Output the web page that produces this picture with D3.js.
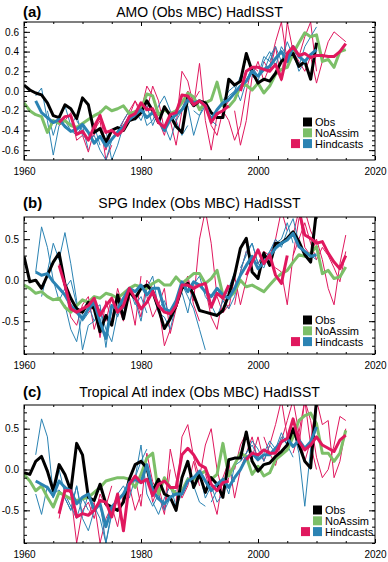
<!DOCTYPE html>
<html><head><meta charset="utf-8">
<script src="https://cdn.jsdelivr.net/npm/d3@7"></script>
<style>body{margin:0;background:#fff}svg{display:block}text{font-family:"Liberation Sans",Arial,Helvetica,sans-serif}</style>
</head><body>
<svg id="chart" width="388" height="562"></svg>
<script>
// ---------- shared ----------
const xDomain = [1960, 2020];
const xTicks = [1960, 1980, 2000, 2020];
const xMinorTicks = [1965, 1970, 1975, 1985, 1990, 1995, 2005, 2010, 2015];
const letters = ["(a)", "(b)", "(c)"];
const titles = ["AMO (Obs MBC) HadISST", "SPG Index (Obs MBC) HadISST", "Tropical Atl index (Obs MBC) HadISST"];
const legendLabels = ["Obs", "NoAssim", "Hindcasts"];

// ---------- panel (a) AMO ----------
const aYDomain = [-0.7, 0.7];
const aYTicks = [-0.6, -0.4, -0.2, 0, 0.2, 0.4, 0.6];
const aObsStart = 1960;
const aObs = [0.06,0.01,-0.02,-0.04,-0.12,-0.25,-0.27,-0.14,-0.18,-0.28,
  -0.07,-0.14,-0.42,-0.38,-0.52,-0.40,-0.37,-0.40,-0.30,-0.28,
  -0.22,-0.10,-0.20,-0.32,-0.16,-0.25,-0.36,-0.42,-0.06,-0.15,
  -0.10,-0.12,-0.22,-0.27,-0.27,0.12,0.06,0.10,0.38,0.20,
  0.08,0.12,0.10,0.18,0.30,0.35,0.38,0.25,0.30,0.12,0.49];
const aNoAssimStart = 1960;
const aNoAssim = [-0.12,-0.20,-0.24,-0.26,-0.42,-0.30,-0.33,-0.30,-0.35,-0.37,
  -0.33,-0.29,-0.25,-0.22,-0.16,-0.20,-0.18,-0.15,-0.23,-0.21,
  -0.19,-0.03,-0.05,-0.24,-0.19,-0.23,-0.20,-0.12,-0.02,-0.06,
  -0.19,-0.12,-0.09,0.09,-0.15,-0.16,-0.09,0.05,0.06,0.01,
  0.08,-0.02,0.05,0.17,0.22,0.24,0.38,0.49,0.59,0.55,
  0.57,0.30,0.32,0.24,0.40,0.42];
const aPinkStart = 1966;
const aPinkMean = [-0.32,-0.26,-0.25,-0.44,-0.41,-0.50,-0.36,-0.25,-0.42,-0.40,
  -0.45,-0.39,-0.26,-0.23,-0.12,-0.19,-0.18,-0.32,-0.37,-0.24,
  -0.22,-0.04,-0.05,-0.14,-0.10,-0.15,-0.32,-0.23,-0.20,-0.15,
  null,0.00,0.20,0.24,0.24,0.22,0.20,0.27,0.12,0.38,
  0.45,0.36,0.38,0.34,0.36,0.36,0.35,0.35,0.40,0.48];
const aBlueStart = 1962;
const aBlueMean = [-0.10,-0.22,-0.27,-0.32,-0.29,-0.36,-0.41,-0.39,-0.34,-0.42,
  -0.53,-0.46,-0.56,-0.49,-0.42,-0.36,-0.29,-0.24,-0.19,-0.27,
  -0.22,-0.30,-0.40,-0.29,-0.24,-0.19,-0.09,-0.12,-0.10,-0.15,
  -0.29,-0.19,-0.12,-0.09,-0.02,0.05,0.10,0.20,0.15,0.22,
  0.25,0.33,0.40,0.30,0.45,0.35,0.30,0.37,0.42];
const aPinkRuns = [
  [1966, [-0.35,-0.30,-0.22,-0.50,-0.45,-0.62,-0.40,-0.30,-0.70,-0.55]],
  [1971, [-0.50,-0.45,-0.20,-0.60,-0.40,-0.45,-0.30,-0.20,-0.10,-0.25]],
  [1976, [-0.45,-0.35,-0.25,-0.10,-0.20,0.05,-0.05,-0.30,-0.45,-0.20]],
  [1981, [-0.20,0.05,-0.10,-0.40,-0.30,-0.55,-0.20,0.00,-0.10,0.00]],
  [1986, [-0.35,0.20,0.10,-0.15,0.28,-0.30,-0.60,-0.25,-0.20,-0.10]],
  [1991, [-0.10,-0.35,-0.45,-0.20,-0.30,-0.50,-0.35,0.00,0.25,0.20]],
  [1996, [-0.20,-0.55,-0.30,0.15,0.30,0.10,0.25,0.50,0.70,0.30]],
  [2001, [0.30,0.20,0.45,0.10,0.70,0.40,0.35,0.55,0.70,0.20]],
  [2006, [0.40,0.30,0.20,0.35,0.08,0.30,0.50,0.60,0.55,0.50]]
];
const aBlueRuns = [
  [1962, [-0.05,0.03,-0.30,-0.65,-0.35,-0.30,-0.40,-0.45,-0.35,-0.60]],
  [1964, [-0.20,-0.45,-0.25,-0.15,-0.35,-0.25,-0.45,-0.50,-0.35,-0.55]],
  [1969, [-0.30,-0.40,-0.50,-0.45,-0.60,-0.70,-0.50,-0.40,-0.30,-0.20]],
  [1974, [-0.40,-0.70,-0.55,-0.35,-0.25,-0.20,-0.30,-0.15,-0.35,-0.20]],
  [1979, [-0.30,-0.15,-0.35,-0.30,-0.15,-0.05,-0.20,-0.30,-0.45,-0.35]],
  [1984, [-0.35,-0.50,-0.30,-0.20,-0.15,-0.45,-0.25,-0.10,-0.30,-0.35]],
  [1989, [-0.20,-0.25,-0.15,-0.30,-0.20,-0.10,0.00,0.05,-0.10,0.10]],
  [1994, [-0.15,-0.05,0.00,0.15,0.10,0.25,0.15,0.35,0.30,0.45]],
  [1999, [0.15,0.10,0.30,0.40,0.25,0.45,0.35,0.40,0.20,0.30]],
  [2001, [0.20,0.35,0.45,0.30,0.50,0.35,0.25,0.45,0.55,0.65]]
];

// ---------- panel (b) SPG ----------
const bYDomain = [-0.9, 0.77];
const bYTicks = [-0.5, 0, 0.5];
const bObsStart = 1960;
const bObs = [0.29,-0.02,0.00,-0.10,0.06,0.22,0.33,-0.05,-0.22,-0.35,
  -0.39,-0.27,-0.35,-0.63,-0.43,-0.55,-0.18,-0.47,-0.14,-0.22,
  -0.10,-0.06,-0.14,-0.35,-0.59,-0.47,-0.31,-0.10,-0.04,-0.18,
  -0.37,-0.39,-0.41,-0.43,-0.37,-0.18,0.06,0.39,0.51,0.10,
  0.02,0.33,0.18,0.45,0.45,0.51,0.59,0.47,0.31,0.22,0.85];
const bNoAssimStart = 1960;
const bNoAssim = [-0.06,-0.10,-0.16,-0.14,-0.20,-0.24,-0.22,-0.33,-0.39,-0.31,
  -0.24,-0.27,-0.20,-0.22,-0.16,-0.18,-0.22,-0.16,-0.10,-0.06,
  -0.08,-0.10,-0.04,0.00,-0.06,-0.06,0.04,-0.04,0.02,0.08,
  0.08,-0.04,0.02,0.12,-0.18,-0.22,-0.14,0.00,-0.08,-0.06,
  -0.10,-0.14,-0.06,0.02,0.08,0.12,0.22,0.31,0.29,0.33,
  0.41,0.08,0.12,0.02,0.04,0.16];
const bPinkStart = 1966;
const bPinkMean = [0.18,-0.06,-0.35,-0.39,-0.35,-0.31,-0.22,-0.43,-0.31,-0.22,
  -0.39,-0.31,-0.10,-0.22,-0.35,-0.27,-0.14,-0.31,-0.39,-0.41,
  -0.31,-0.06,-0.06,-0.10,-0.06,-0.04,-0.33,-0.16,-0.22,-0.06,
  null,null,0.06,0.22,0.37,0.20,0.31,0.06,-0.04,0.30,
  null,0.85,0.55,0.51,0.45,0.47,0.33,0.22,0.14,0.30];
const bBlueStart = 1962;
const bBlueMean = [0.10,0.06,0.08,-0.02,-0.10,-0.18,-0.31,-0.39,-0.47,-0.35,
  -0.27,-0.51,-0.71,-0.31,-0.35,-0.22,-0.10,-0.14,-0.06,-0.18,
  -0.10,-0.10,-0.35,-0.38,-0.25,-0.02,-0.14,-0.02,-0.06,-0.14,
  -0.20,-0.10,-0.18,-0.22,-0.10,0.06,0.18,0.29,0.14,0.22,
  0.29,0.39,0.45,0.49,0.57,0.41,0.35,0.29,0.31];
const bPinkRuns = [
  [1966, [0.20,-0.10,-0.45,-0.55,-0.30,-0.20,-0.60,-0.35,-0.50,-0.20]],
  [1971, [-0.40,-0.30,-0.70,-0.25,-0.50,-0.10,-0.35,-0.20,-0.55,0.05]],
  [1976, [-0.30,-0.50,-0.15,-0.20,-0.45,0.00,-0.10,-0.30,-0.80,-0.60]],
  [1981, [-0.20,-0.45,-0.30,-0.10,-0.65,-0.35,-0.10,0.00,-0.30,-0.50]],
  [1986, [-0.35,-0.10,0.05,-0.25,0.50,0.85,0.45,-0.20,-0.40,-0.30]],
  [1991, [-0.10,-0.45,-0.60,-0.20,-0.35,0.05,-0.30,0.00,0.30,0.15]],
  [1996, [-0.30,0.10,0.35,0.25,0.20,0.35,0.30,0.50,0.85,0.60]],
  [2001, [0.35,0.20,0.15,0.10,-0.30,0.30,0.75,0.85,0.60,0.45]],
  [2006, [0.55,0.85,0.40,0.30,0.50,0.25,-0.10,-0.30,0.20,0.55]],
  [2006, [0.30,0.50,0.70,0.45,0.25,0.40,0.30,0.15,-0.02,0.35]]
];
const bBlueRuns = [
  [1962, [0.10,0.65,0.40,0.00,-0.25,-0.10,0.00,-0.30,-0.50,-0.40]],
  [1963, [-0.20,0.10,0.45,0.25,0.58,0.20,-0.25,-0.85,-0.55,-0.50]],
  [1967, [-0.30,-0.60,-0.75,-0.40,-0.30,-0.50,-0.35,-0.60,-0.75,-0.40]],
  [1972, [-0.35,-0.30,-0.82,-0.30,-0.45,-0.25,-0.10,-0.30,-0.20,-0.40]],
  [1977, [-0.35,-0.15,-0.25,-0.50,-0.10,0.05,-0.35,-0.25,-0.45,-0.30]],
  [1982, [-0.15,-0.40,-0.45,-0.60,-0.30,-0.05,-0.20,-0.35,-0.60,-0.85]],
  [1987, [-0.15,-0.40,-0.05,0.05,-0.20,-0.30,-0.45,-0.25,-0.10,0.10]],
  [1992, [-0.30,-0.10,-0.25,-0.35,-0.20,0.10,0.35,0.45,0.20,0.30]],
  [1997, [0.15,0.30,0.45,0.20,0.15,0.35,0.45,0.50,0.70,0.45]],
  [2001, [0.25,0.35,0.50,0.40,0.60,0.75,0.45,0.35,0.30,0.25]]
];

// ---------- panel (c) Tropical Atl ----------
const cYDomain = [-0.9, 0.79];
const cYTicks = [-0.5, 0, 0.5];
const cObsStart = 1960;
const cObs = [-0.04,-0.06,0.10,0.16,-0.02,-0.26,0.06,-0.06,-0.26,0.32,
  0.18,-0.34,-0.38,-0.18,-0.42,-0.46,-0.50,-0.40,-0.12,0.06,
  0.10,0.02,-0.26,-0.12,-0.30,-0.34,-0.50,-0.10,0.10,-0.22,
  -0.06,-0.28,-0.10,-0.18,-0.34,0.12,0.14,0.14,0.46,0.10,
  -0.02,0.06,0.08,0.16,0.22,0.30,0.50,0.30,0.10,0.02,0.85];
const cNoAssimStart = 1960;
const cNoAssim = [-0.06,-0.14,-0.26,-0.20,-0.34,-0.46,-0.28,-0.32,-0.36,-0.38,
  -0.36,-0.34,-0.28,-0.22,-0.14,-0.12,-0.10,-0.10,-0.12,-0.22,
  -0.06,0.14,0.20,-0.30,-0.10,-0.22,-0.30,-0.26,-0.12,-0.12,
  -0.06,-0.02,-0.12,-0.06,0.32,-0.08,0.06,0.20,0.16,-0.06,
  0.04,-0.08,-0.04,0.12,0.18,0.24,0.40,0.60,0.66,0.69,
  0.56,0.20,0.20,0.10,0.20,0.48];
const cPinkStart = 1966;
const cPinkMean = [-0.54,-0.26,-0.26,-0.58,-0.54,-0.56,-0.50,-0.38,-0.40,-0.58,
  -0.30,-0.75,-0.18,-0.08,-0.16,-0.12,-0.32,-0.18,-0.14,-0.22,
  -0.22,0.18,0.26,0.18,0.06,0.02,-0.18,-0.26,-0.16,-0.14,
  null,null,0.12,0.20,0.18,0.24,0.20,0.20,0.34,0.38,
  0.62,0.34,0.24,0.30,0.40,0.30,0.26,0.22,0.36,0.42];
const cBlueStart = 1962;
const cBlueMean = [-0.14,-0.18,-0.22,-0.32,-0.14,-0.22,-0.26,-0.42,-0.34,-0.30,
  -0.50,-0.42,-0.70,-0.46,-0.38,-0.30,-0.16,-0.12,-0.16,0.06,
  -0.26,-0.36,-0.42,-0.34,-0.30,-0.30,-0.14,-0.10,-0.02,-0.14,
  -0.26,-0.18,-0.12,-0.22,-0.10,0.00,0.14,0.20,0.12,0.18,
  0.18,0.26,0.34,0.38,0.28,0.36,0.26,0.34,0.52];
const cPinkRuns = [
  [1966, [-0.60,-0.20,-0.30,-0.90,-0.50,-0.40,-0.60,-0.30,-0.45,-0.20]],
  [1971, [-0.55,-0.40,-0.90,-0.60,-0.45,-0.70,-0.30,-0.20,-0.50,-0.30]],
  [1976, [-0.40,-0.75,-0.20,-0.10,-0.45,0.20,-0.15,-0.30,-0.55,0.00]],
  [1981, [0.00,-0.40,-0.20,-0.50,0.25,-0.10,-0.35,-0.20,0.10,-0.20]],
  [1986, [-0.40,0.40,0.55,0.15,-0.10,0.30,0.50,0.00,-0.30,-0.10]],
  [1991, [-0.05,-0.30,-0.55,-0.10,0.10,-0.35,0.00,0.20,0.40,0.10]],
  [1996, [0.00,0.30,0.45,0.15,0.40,0.10,0.30,0.55,0.85,0.40]],
  [2001, [0.40,0.20,0.05,0.35,0.60,0.85,0.45,0.85,0.30,0.00]],
  [2006, [0.50,0.30,0.85,0.60,0.15,-0.10,0.00,0.30,0.65,0.60]],
  [2006, [0.20,0.45,0.10,0.35,0.85,0.55,0.60,-0.10,0.10,0.50]]
];
const cBlueRuns = [
  [1962, [0.18,0.62,0.40,-0.30,-0.25,-0.35,-0.50,-0.20,-0.55,-0.30]],
  [1962, [-0.30,-0.55,-0.20,-0.35,0.00,-0.30,-0.45,-0.60,-0.35,-0.50]],
  [1967, [-0.35,-0.50,-0.20,-0.60,-0.75,-0.50,-0.40,-0.90,-0.55,-0.30]],
  [1972, [-0.45,-0.60,-0.90,-0.50,-0.30,-0.20,-0.35,-0.10,0.10,0.25]],
  [1977, [-0.30,-0.20,-0.10,0.30,-0.30,-0.45,-0.30,-0.50,-0.35,-0.25]],
  [1982, [-0.40,-0.55,-0.35,-0.20,-0.45,-0.30,-0.10,-0.20,-0.40,-0.45]],
  [1987, [-0.30,-0.10,-0.20,-0.05,-0.35,-0.20,-0.40,-0.30,0.00,-0.15]],
  [1992, [-0.40,-0.25,-0.10,-0.30,0.05,0.10,0.20,0.30,0.15,0.25]],
  [1997, [0.10,0.20,0.35,0.25,0.10,0.30,0.20,0.40,0.30,0.15]],
  [2001, [0.20,0.35,0.25,0.45,0.30,0.50,0.20,-0.45,0.25,0.55]]
];

// ---------- styling / layout ----------
const COL = {obs:"#000000", noassim:"#7CBF68", pink:"#E0185E", blue:"#2B83B3"};
const fmt = d => d.toFixed(1);

const panels = [
  {letter:letters[0], title:titles[0], top:22, bottom:160, yDomain:aYDomain, yTicks:aYTicks, minorStep:0.05,
   obs:[aObsStart,aObs], noassim:[aNoAssimStart,aNoAssim], pink:[aPinkStart,aPinkMean], blue:[aBlueStart,aBlueMean],
   pinkRuns:aPinkRuns, blueRuns:aBlueRuns, titleY:17, legendX:291, legendY:122},
  {letter:letters[1], title:titles[1], top:217, bottom:354, yDomain:bYDomain, yTicks:bYTicks, minorStep:0.1,
   obs:[bObsStart,bObs], noassim:[bNoAssimStart,bNoAssim], pink:[bPinkStart,bPinkMean], blue:[bBlueStart,bBlueMean],
   pinkRuns:bPinkRuns, blueRuns:bBlueRuns, titleY:208, legendX:291, legendY:320},
  {letter:letters[2], title:titles[2], top:405, bottom:543, yDomain:cYDomain, yTicks:cYTicks, minorStep:0.1,
   obs:[cObsStart,cObs], noassim:[cNoAssimStart,cNoAssim], pink:[cPinkStart,cPinkMean], blue:[cBlueStart,cBlueMean],
   pinkRuns:cPinkRuns, blueRuns:cBlueRuns, titleY:397, legendX:301, legendY:510}
];

const svg = d3.select("#chart");
const left = 24, right = 375;
const x = d3.scaleLinear().domain(xDomain).range([left, right]);
const toPts = (start, vals) => vals.map((v, i) => ({yr: start + i, v}));

panels.forEach((p, pi) => {
  const y = d3.scaleLinear().domain(p.yDomain).range([p.bottom, p.top]);
  const g = svg.append("g");
  const clipId = "clip" + pi;
  svg.append("clipPath").attr("id", clipId).append("rect")
    .attr("x", left).attr("y", p.top).attr("width", right - left).attr("height", p.bottom - p.top);

  const line = d3.line().defined(d => d.v != null).x(d => x(d.yr)).y(d => y(d.v));
  const plot = g.append("g").attr("clip-path", `url(#${clipId})`);

  // thin individual hindcasts (interleave)
  const n = Math.max(p.pinkRuns.length, p.blueRuns.length);
  for (let i = 0; i < n; i++) {
    if (p.blueRuns[i]) plot.append("path").datum(toPts(p.blueRuns[i][0], p.blueRuns[i][1]))
      .attr("d", line).attr("fill", "none").attr("stroke", COL.blue).attr("stroke-width", 1);
    if (p.pinkRuns[i]) plot.append("path").datum(toPts(p.pinkRuns[i][0], p.pinkRuns[i][1]))
      .attr("d", line).attr("fill", "none").attr("stroke", COL.pink).attr("stroke-width", 1);
  }
  const thick = (s, c) => plot.append("path").datum(toPts(s[0], s[1])).attr("d", line)
    .attr("fill", "none").attr("stroke", c).attr("stroke-width", 3).attr("stroke-linejoin", "round");
  thick(p.noassim, COL.noassim);
  thick(p.obs, COL.obs);
  thick(p.blue, COL.blue);
  thick(p.pink, COL.pink);

  // axes: ticks inward on all four sides
  const yMinor = d3.range(Math.ceil(p.yDomain[0] / p.minorStep) * p.minorStep, p.yDomain[1] + 1e-9, p.minorStep);
  const axG = g.append("g").attr("font-size", 12);
  axG.append("g").attr("transform", `translate(${left},0)`)
    .call(d3.axisLeft(y).tickValues(yMinor).tickSize(-3).tickFormat(""));
  axG.append("g").attr("transform", `translate(${left},0)`)
    .call(d3.axisLeft(y).tickValues(p.yTicks).tickSize(-6).tickPadding(5).tickFormat(fmt));
  axG.append("g").attr("transform", `translate(${right},0)`)
    .call(d3.axisRight(y).tickValues(yMinor).tickSize(-3).tickFormat(""));
  axG.append("g").attr("transform", `translate(${right},0)`)
    .call(d3.axisRight(y).tickValues(p.yTicks).tickSize(-6).tickFormat(""));
  axG.append("g").attr("transform", `translate(0,${p.bottom})`)
    .call(d3.axisBottom(x).tickValues(xMinorTicks).tickSize(-2).tickFormat(""));
  axG.append("g").attr("transform", `translate(0,${p.bottom})`)
    .call(d3.axisBottom(x).tickValues(xTicks).tickSize(-4).tickPadding(8).tickFormat(d3.format("d")));
  axG.append("g").attr("transform", `translate(0,${p.top})`)
    .call(d3.axisTop(x).tickValues(xMinorTicks).tickSize(-2).tickFormat(""));
  axG.append("g").attr("transform", `translate(0,${p.top})`)
    .call(d3.axisTop(x).tickValues(xTicks).tickSize(-4).tickFormat(""));
  axG.selectAll(".domain").remove();
  axG.selectAll("text").attr("font-family", '"Liberation Sans",Arial,sans-serif').attr("fill", "#000");
  axG.selectAll(".tick line").attr("stroke", "#000");

  g.append("rect").attr("x", left).attr("y", p.top).attr("width", right - left).attr("height", p.bottom - p.top)
    .attr("fill", "none").attr("stroke", "#000").attr("stroke-width", 1);

  // titles
  g.append("text").attr("x", 23).attr("y", p.titleY).attr("font-size", 15).attr("font-weight", "bold").text(p.letter);
  g.append("text").attr("x", (left + right) / 2).attr("y", p.titleY).attr("text-anchor", "middle")
    .attr("font-size", 14).text(p.title);

  // legend
  const lg = g.append("g");
  const sq = 9, dy = 10.8;
  const rows = [[COL.obs], [COL.noassim], [COL.pink, COL.blue]];
  rows.forEach((cols, ri) => {
    const cy = p.legendY + ri * dy;
    cols.slice().reverse().forEach((c, ci) => {
      lg.append("rect").attr("x", p.legendX + 12 - ci * 12).attr("y", cy - sq / 2)
        .attr("width", sq).attr("height", sq).attr("fill", c);
    });
    lg.append("text").attr("x", p.legendX + 24).attr("y", cy + 4).attr("font-size", 11).text(legendLabels[ri]);
  });
});
</script>
</body></html>
